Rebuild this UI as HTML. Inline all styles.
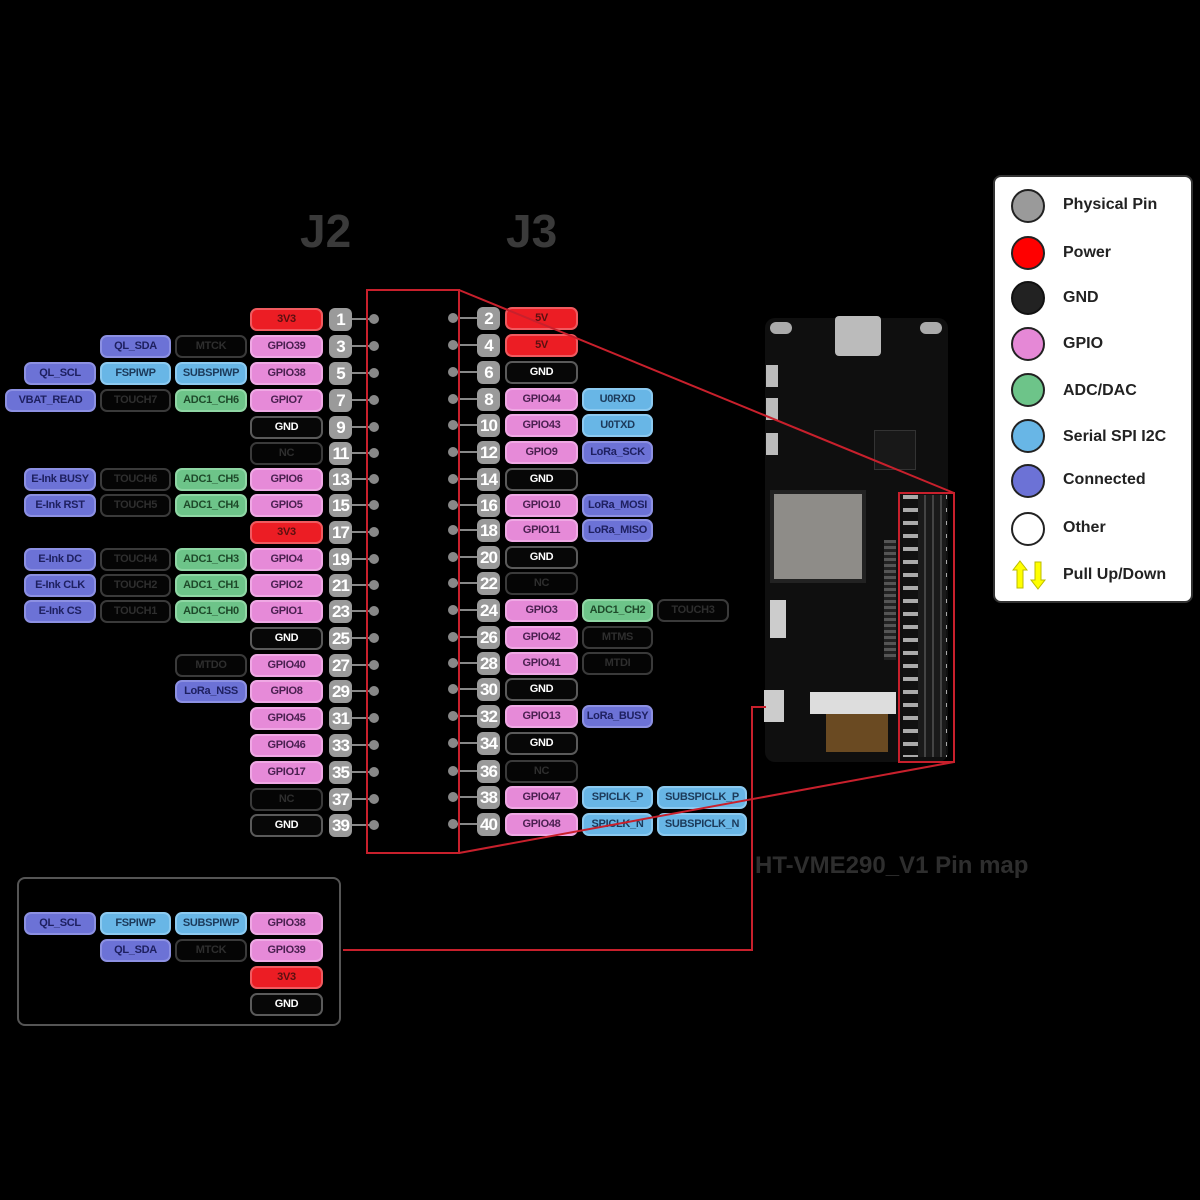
<!DOCTYPE html>
<html><head><meta charset="utf-8"><style>
body{margin:0;background:#000;width:1200px;height:1200px;position:relative;overflow:hidden;font-family:"Liberation Sans",sans-serif}
.b{position:absolute;height:23px;border-radius:7px;font-weight:bold;font-size:11px;letter-spacing:-0.3px;text-align:center;line-height:19px;box-sizing:border-box;border:2px solid;white-space:nowrap;overflow:hidden}
.r{background:#ec1d24;border-color:#f05a5f;color:#5a1010}
.p{background:#e68ad8;border-color:#efa8e4;color:#4a2050}
.g{background:#6dc489;border-color:#8fd6a4;color:#1e4a2a}
.s{background:#68b6e6;border-color:#8ccaf0;color:#1c3a5a}
.c{background:#6c72d6;border-color:#8c90e2;color:#1e2060}
.d{background:#050505;border-color:#3a3a3a;color:#2e2e2e}
.k{background:#070707;border-color:#5a5a5a;color:#fff}
.n{position:absolute;width:23px;height:23px;border-radius:6px;background:#9a9a9a;color:#fff;font-weight:bold;font-size:17px;text-align:center;line-height:23px;letter-spacing:-1px}
.t{position:absolute;color:#3a3a3a;font-weight:bold}
</style></head><body>
<div class="t" style="left:300px;top:204px;font-size:46px">J2</div>
<div class="t" style="left:506px;top:204px;font-size:46px">J3</div>
<div class="t" style="left:755px;top:852px;font-size:24px;color:#2e2e2e">HT-VME290_V1 Pin map</div>

<!-- board -->
<div style="position:absolute;left:765px;top:318px;width:183px;height:444px;background:#0f0f0f;border-radius:10px"></div>
<div style="position:absolute;left:835px;top:316px;width:46px;height:40px;background:#bbb;border-radius:4px"></div>
<div style="position:absolute;left:770px;top:322px;width:22px;height:12px;background:#aaa;border-radius:6px"></div>
<div style="position:absolute;left:920px;top:322px;width:22px;height:12px;background:#aaa;border-radius:6px"></div>
<div style="position:absolute;left:766px;top:365px;width:12px;height:22px;background:#bbb"></div>
<div style="position:absolute;left:766px;top:398px;width:12px;height:22px;background:#bbb"></div>
<div style="position:absolute;left:766px;top:433px;width:12px;height:22px;background:#bbb"></div>
<div style="position:absolute;left:874px;top:430px;width:40px;height:38px;background:#181818;border:1px solid #333"></div>
<div style="position:absolute;left:770px;top:490px;width:88px;height:85px;background:#8e8c88;border:4px solid #222"></div>
<div style="position:absolute;left:770px;top:600px;width:16px;height:38px;background:#ccc"></div>
<div style="position:absolute;left:764px;top:690px;width:20px;height:32px;background:#ccc"></div>
<div style="position:absolute;left:810px;top:692px;width:86px;height:22px;background:#ddd"></div>
<div style="position:absolute;left:826px;top:714px;width:62px;height:38px;background:#6a4a22"></div>
<div style="position:absolute;left:884px;top:540px;width:12px;height:120px;background:repeating-linear-gradient(#555 0 3px,#222 3px 6px)"></div>
<div style="position:absolute;left:903px;top:495px;width:44px;height:262px;background:repeating-linear-gradient(#aaa 0 4px,#111 4px 13px)"></div>
<div style="position:absolute;left:918px;top:495px;width:28px;height:262px;background:repeating-linear-gradient(90deg,#1a1a1a 0 6px,#444 6px 8px)"></div>

<!-- legend -->
<div style="position:absolute;left:993px;top:175px;width:200px;height:428px;background:#fff;border:2px solid #333;border-radius:8px;box-sizing:border-box"></div>
<div style="position:absolute;left:1011px;top:189px;width:34px;height:34px;border-radius:50%;background:#9a9a9a;border:2px solid #222;box-sizing:border-box"></div>
<div style="position:absolute;left:1011px;top:236px;width:34px;height:34px;border-radius:50%;background:#f00;border:2px solid #222;box-sizing:border-box"></div>
<div style="position:absolute;left:1011px;top:281px;width:34px;height:34px;border-radius:50%;background:#222;border:2px solid #111;box-sizing:border-box"></div>
<div style="position:absolute;left:1011px;top:327px;width:34px;height:34px;border-radius:50%;background:#e588d6;border:2px solid #222;box-sizing:border-box"></div>
<div style="position:absolute;left:1011px;top:373px;width:34px;height:34px;border-radius:50%;background:#6dc489;border:2px solid #222;box-sizing:border-box"></div>
<div style="position:absolute;left:1011px;top:419px;width:34px;height:34px;border-radius:50%;background:#68b6e6;border:2px solid #222;box-sizing:border-box"></div>
<div style="position:absolute;left:1011px;top:464px;width:34px;height:34px;border-radius:50%;background:#6c72d6;border:2px solid #222;box-sizing:border-box"></div>
<div style="position:absolute;left:1011px;top:512px;width:34px;height:34px;border-radius:50%;background:#fff;border:2px solid #222;box-sizing:border-box"></div>
<svg style="position:absolute;left:1012px;top:560px" width="36" height="30">
<polygon points="8,1 15,10 11,10 11,28 5,28 5,10 1,10" fill="#ff0" stroke="#bb0" stroke-width="1"/>
<polygon points="26,29 33,20 29,20 29,2 23,2 23,20 19,20" fill="#ff0" stroke="#bb0" stroke-width="1"/>
</svg>
<div style="position:absolute;left:1063px;top:195px;font-size:16px;font-weight:bold;color:#222;line-height:20px">Physical Pin</div>
<div style="position:absolute;left:1063px;top:243px;font-size:16px;font-weight:bold;color:#222;line-height:20px">Power</div>
<div style="position:absolute;left:1063px;top:288px;font-size:16px;font-weight:bold;color:#222;line-height:20px">GND</div>
<div style="position:absolute;left:1063px;top:334px;font-size:16px;font-weight:bold;color:#222;line-height:20px">GPIO</div>
<div style="position:absolute;left:1063px;top:381px;font-size:16px;font-weight:bold;color:#222;line-height:20px">ADC/DAC</div>
<div style="position:absolute;left:1063px;top:427px;font-size:16px;font-weight:bold;color:#222;line-height:20px">Serial SPI I2C</div>
<div style="position:absolute;left:1063px;top:470px;font-size:16px;font-weight:bold;color:#222;line-height:20px">Connected</div>
<div style="position:absolute;left:1063px;top:518px;font-size:16px;font-weight:bold;color:#222;line-height:20px">Other</div>
<div style="position:absolute;left:1063px;top:565px;font-size:16px;font-weight:bold;color:#222;line-height:20px">Pull Up/Down</div>

<!-- bottom box -->
<div style="position:absolute;left:17px;top:877px;width:324px;height:149px;border:2px solid #555;border-radius:8px;box-sizing:border-box"></div>

<!-- pin lines & dots -->
<svg style="position:absolute;left:0;top:0" width="1200" height="1200">
<g stroke="#888" stroke-width="2" fill="#888">
<line x1="352" y1="319" x2="374" y2="319"/><circle cx="374" cy="319" r="4"/>
<line x1="352" y1="346" x2="374" y2="346"/><circle cx="374" cy="346" r="4"/>
<line x1="352" y1="373" x2="374" y2="373"/><circle cx="374" cy="373" r="4"/>
<line x1="352" y1="400" x2="374" y2="400"/><circle cx="374" cy="400" r="4"/>
<line x1="352" y1="427" x2="374" y2="427"/><circle cx="374" cy="427" r="4"/>
<line x1="352" y1="453" x2="374" y2="453"/><circle cx="374" cy="453" r="4"/>
<line x1="352" y1="479" x2="374" y2="479"/><circle cx="374" cy="479" r="4"/>
<line x1="352" y1="505" x2="374" y2="505"/><circle cx="374" cy="505" r="4"/>
<line x1="352" y1="532" x2="374" y2="532"/><circle cx="374" cy="532" r="4"/>
<line x1="352" y1="559" x2="374" y2="559"/><circle cx="374" cy="559" r="4"/>
<line x1="352" y1="585" x2="374" y2="585"/><circle cx="374" cy="585" r="4"/>
<line x1="352" y1="611" x2="374" y2="611"/><circle cx="374" cy="611" r="4"/>
<line x1="352" y1="638" x2="374" y2="638"/><circle cx="374" cy="638" r="4"/>
<line x1="352" y1="665" x2="374" y2="665"/><circle cx="374" cy="665" r="4"/>
<line x1="352" y1="691" x2="374" y2="691"/><circle cx="374" cy="691" r="4"/>
<line x1="352" y1="718" x2="374" y2="718"/><circle cx="374" cy="718" r="4"/>
<line x1="352" y1="745" x2="374" y2="745"/><circle cx="374" cy="745" r="4"/>
<line x1="352" y1="772" x2="374" y2="772"/><circle cx="374" cy="772" r="4"/>
<line x1="352" y1="799" x2="374" y2="799"/><circle cx="374" cy="799" r="4"/>
<line x1="352" y1="825" x2="374" y2="825"/><circle cx="374" cy="825" r="4"/>
<line x1="453" y1="318" x2="477" y2="318"/><circle cx="453" cy="318" r="4"/>
<line x1="453" y1="345" x2="477" y2="345"/><circle cx="453" cy="345" r="4"/>
<line x1="453" y1="372" x2="477" y2="372"/><circle cx="453" cy="372" r="4"/>
<line x1="453" y1="399" x2="477" y2="399"/><circle cx="453" cy="399" r="4"/>
<line x1="453" y1="425" x2="477" y2="425"/><circle cx="453" cy="425" r="4"/>
<line x1="453" y1="452" x2="477" y2="452"/><circle cx="453" cy="452" r="4"/>
<line x1="453" y1="479" x2="477" y2="479"/><circle cx="453" cy="479" r="4"/>
<line x1="453" y1="505" x2="477" y2="505"/><circle cx="453" cy="505" r="4"/>
<line x1="453" y1="530" x2="477" y2="530"/><circle cx="453" cy="530" r="4"/>
<line x1="453" y1="557" x2="477" y2="557"/><circle cx="453" cy="557" r="4"/>
<line x1="453" y1="583" x2="477" y2="583"/><circle cx="453" cy="583" r="4"/>
<line x1="453" y1="610" x2="477" y2="610"/><circle cx="453" cy="610" r="4"/>
<line x1="453" y1="637" x2="477" y2="637"/><circle cx="453" cy="637" r="4"/>
<line x1="453" y1="663" x2="477" y2="663"/><circle cx="453" cy="663" r="4"/>
<line x1="453" y1="689" x2="477" y2="689"/><circle cx="453" cy="689" r="4"/>
<line x1="453" y1="716" x2="477" y2="716"/><circle cx="453" cy="716" r="4"/>
<line x1="453" y1="743" x2="477" y2="743"/><circle cx="453" cy="743" r="4"/>
<line x1="453" y1="771" x2="477" y2="771"/><circle cx="453" cy="771" r="4"/>
<line x1="453" y1="797" x2="477" y2="797"/><circle cx="453" cy="797" r="4"/>
<line x1="453" y1="824" x2="477" y2="824"/><circle cx="453" cy="824" r="4"/>
</g>
</svg>

<!-- left -->
<div class="n" style="left:329px;top:308px">1</div><div class="b r" style="left:250px;top:308px;width:73px">3V3</div>
<div class="n" style="left:329px;top:335px">3</div><div class="b p" style="left:250px;top:335px;width:73px">GPIO39</div><div class="b d" style="left:175px;top:335px;width:72px">MTCK</div><div class="b c" style="left:100px;top:335px;width:71px">QL_SDA</div>
<div class="n" style="left:329px;top:362px">5</div><div class="b p" style="left:250px;top:362px;width:73px">GPIO38</div><div class="b s" style="left:175px;top:362px;width:72px">SUBSPIWP</div><div class="b s" style="left:100px;top:362px;width:71px">FSPIWP</div><div class="b c" style="left:24px;top:362px;width:72px">QL_SCL</div>
<div class="n" style="left:329px;top:389px">7</div><div class="b p" style="left:250px;top:389px;width:73px">GPIO7</div><div class="b g" style="left:175px;top:389px;width:72px">ADC1_CH6</div><div class="b d" style="left:100px;top:389px;width:71px">TOUCH7</div><div class="b c" style="left:5px;top:389px;width:91px">VBAT_READ</div>
<div class="n" style="left:329px;top:416px">9</div><div class="b k" style="left:250px;top:416px;width:73px">GND</div>
<div class="n" style="left:329px;top:442px">11</div><div class="b d" style="left:250px;top:442px;width:73px">NC</div>
<div class="n" style="left:329px;top:468px">13</div><div class="b p" style="left:250px;top:468px;width:73px">GPIO6</div><div class="b g" style="left:175px;top:468px;width:72px">ADC1_CH5</div><div class="b d" style="left:100px;top:468px;width:71px">TOUCH6</div><div class="b c" style="left:24px;top:468px;width:72px">E-Ink BUSY</div>
<div class="n" style="left:329px;top:494px">15</div><div class="b p" style="left:250px;top:494px;width:73px">GPIO5</div><div class="b g" style="left:175px;top:494px;width:72px">ADC1_CH4</div><div class="b d" style="left:100px;top:494px;width:71px">TOUCH5</div><div class="b c" style="left:24px;top:494px;width:72px">E-Ink RST</div>
<div class="n" style="left:329px;top:521px">17</div><div class="b r" style="left:250px;top:521px;width:73px">3V3</div>
<div class="n" style="left:329px;top:548px">19</div><div class="b p" style="left:250px;top:548px;width:73px">GPIO4</div><div class="b g" style="left:175px;top:548px;width:72px">ADC1_CH3</div><div class="b d" style="left:100px;top:548px;width:71px">TOUCH4</div><div class="b c" style="left:24px;top:548px;width:72px">E-Ink DC</div>
<div class="n" style="left:329px;top:574px">21</div><div class="b p" style="left:250px;top:574px;width:73px">GPIO2</div><div class="b g" style="left:175px;top:574px;width:72px">ADC1_CH1</div><div class="b d" style="left:100px;top:574px;width:71px">TOUCH2</div><div class="b c" style="left:24px;top:574px;width:72px">E-Ink CLK</div>
<div class="n" style="left:329px;top:600px">23</div><div class="b p" style="left:250px;top:600px;width:73px">GPIO1</div><div class="b g" style="left:175px;top:600px;width:72px">ADC1_CH0</div><div class="b d" style="left:100px;top:600px;width:71px">TOUCH1</div><div class="b c" style="left:24px;top:600px;width:72px">E-Ink CS</div>
<div class="n" style="left:329px;top:627px">25</div><div class="b k" style="left:250px;top:627px;width:73px">GND</div>
<div class="n" style="left:329px;top:654px">27</div><div class="b p" style="left:250px;top:654px;width:73px">GPIO40</div><div class="b d" style="left:175px;top:654px;width:72px">MTDO</div>
<div class="n" style="left:329px;top:680px">29</div><div class="b p" style="left:250px;top:680px;width:73px">GPIO8</div><div class="b c" style="left:175px;top:680px;width:72px">LoRa_NSS</div>
<div class="n" style="left:329px;top:707px">31</div><div class="b p" style="left:250px;top:707px;width:73px">GPIO45</div>
<div class="n" style="left:329px;top:734px">33</div><div class="b p" style="left:250px;top:734px;width:73px">GPIO46</div>
<div class="n" style="left:329px;top:761px">35</div><div class="b p" style="left:250px;top:761px;width:73px">GPIO17</div>
<div class="n" style="left:329px;top:788px">37</div><div class="b d" style="left:250px;top:788px;width:73px">NC</div>
<div class="n" style="left:329px;top:814px">39</div><div class="b k" style="left:250px;top:814px;width:73px">GND</div>

<!-- right -->
<div class="n" style="left:477px;top:307px">2</div><div class="b r" style="left:505px;top:307px;width:73px">5V</div>
<div class="n" style="left:477px;top:334px">4</div><div class="b r" style="left:505px;top:334px;width:73px">5V</div>
<div class="n" style="left:477px;top:361px">6</div><div class="b k" style="left:505px;top:361px;width:73px">GND</div>
<div class="n" style="left:477px;top:388px">8</div><div class="b p" style="left:505px;top:388px;width:73px">GPIO44</div><div class="b s" style="left:582px;top:388px;width:71px">U0RXD</div>
<div class="n" style="left:477px;top:414px">10</div><div class="b p" style="left:505px;top:414px;width:73px">GPIO43</div><div class="b s" style="left:582px;top:414px;width:71px">U0TXD</div>
<div class="n" style="left:477px;top:441px">12</div><div class="b p" style="left:505px;top:441px;width:73px">GPIO9</div><div class="b c" style="left:582px;top:441px;width:71px">LoRa_SCK</div>
<div class="n" style="left:477px;top:468px">14</div><div class="b k" style="left:505px;top:468px;width:73px">GND</div>
<div class="n" style="left:477px;top:494px">16</div><div class="b p" style="left:505px;top:494px;width:73px">GPIO10</div><div class="b c" style="left:582px;top:494px;width:71px">LoRa_MOSI</div>
<div class="n" style="left:477px;top:519px">18</div><div class="b p" style="left:505px;top:519px;width:73px">GPIO11</div><div class="b c" style="left:582px;top:519px;width:71px">LoRa_MISO</div>
<div class="n" style="left:477px;top:546px">20</div><div class="b k" style="left:505px;top:546px;width:73px">GND</div>
<div class="n" style="left:477px;top:572px">22</div><div class="b d" style="left:505px;top:572px;width:73px">NC</div>
<div class="n" style="left:477px;top:599px">24</div><div class="b p" style="left:505px;top:599px;width:73px">GPIO3</div><div class="b g" style="left:582px;top:599px;width:71px">ADC1_CH2</div><div class="b d" style="left:657px;top:599px;width:72px">TOUCH3</div>
<div class="n" style="left:477px;top:626px">26</div><div class="b p" style="left:505px;top:626px;width:73px">GPIO42</div><div class="b d" style="left:582px;top:626px;width:71px">MTMS</div>
<div class="n" style="left:477px;top:652px">28</div><div class="b p" style="left:505px;top:652px;width:73px">GPIO41</div><div class="b d" style="left:582px;top:652px;width:71px">MTDI</div>
<div class="n" style="left:477px;top:678px">30</div><div class="b k" style="left:505px;top:678px;width:73px">GND</div>
<div class="n" style="left:477px;top:705px">32</div><div class="b p" style="left:505px;top:705px;width:73px">GPIO13</div><div class="b c" style="left:582px;top:705px;width:71px">LoRa_BUSY</div>
<div class="n" style="left:477px;top:732px">34</div><div class="b k" style="left:505px;top:732px;width:73px">GND</div>
<div class="n" style="left:477px;top:760px">36</div><div class="b d" style="left:505px;top:760px;width:73px">NC</div>
<div class="n" style="left:477px;top:786px">38</div><div class="b p" style="left:505px;top:786px;width:73px">GPIO47</div><div class="b s" style="left:582px;top:786px;width:71px">SPICLK_P</div><div class="b s" style="left:657px;top:786px;width:90px">SUBSPICLK_P</div>
<div class="n" style="left:477px;top:813px">40</div><div class="b p" style="left:505px;top:813px;width:73px">GPIO48</div><div class="b s" style="left:582px;top:813px;width:71px">SPICLK_N</div><div class="b s" style="left:657px;top:813px;width:90px">SUBSPICLK_N</div>

<!-- bottom box labels -->
<div class="b c" style="left:24px;top:912px;width:72px">QL_SCL</div><div class="b s" style="left:100px;top:912px;width:71px">FSPIWP</div><div class="b s" style="left:175px;top:912px;width:72px">SUBSPIWP</div><div class="b p" style="left:250px;top:912px;width:73px">GPIO38</div>
<div class="b c" style="left:100px;top:939px;width:71px">QL_SDA</div><div class="b d" style="left:175px;top:939px;width:72px">MTCK</div><div class="b p" style="left:250px;top:939px;width:73px">GPIO39</div>
<div class="b r" style="left:250px;top:966px;width:73px">3V3</div>
<div class="b k" style="left:250px;top:993px;width:73px">GND</div>

<!-- red connectors -->
<svg style="position:absolute;left:0;top:0" width="1200" height="1200">
<g stroke="#c8202c" stroke-width="2" fill="none">
<rect x="367" y="290" width="92" height="563"/>
<rect x="899" y="493" width="55" height="269"/>
<line x1="459" y1="290" x2="954" y2="493"/>
<line x1="459" y1="853" x2="954" y2="762"/>
<polyline points="343,950 752,950 752,707 766,707"/>
</g>
</svg>
</body></html>
